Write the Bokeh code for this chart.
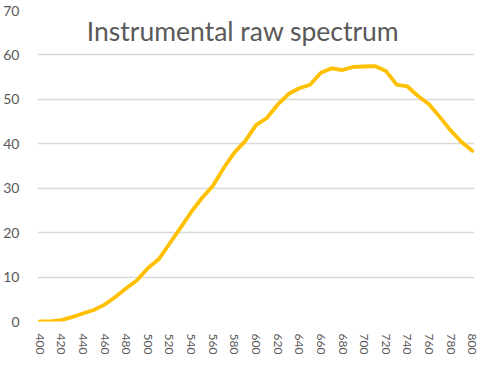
from bokeh.plotting import figure
from bokeh.models import Range1d, FixedTicker, Label
from bokeh.embed import file_html
from bokeh.resources import INLINE

# Data
wavelength = [400, 410, 420, 430, 440, 450, 460, 470, 480, 490,
              500, 510, 520, 530, 540, 550, 560, 570, 580, 590,
              600, 610, 620, 630, 640, 650, 660, 670, 680, 690,
              700, 710, 720, 730, 740, 750, 760, 770, 780, 790, 800]
intensity = [0.0, 0.0, 0.3, 1.0, 1.8, 2.6, 3.8, 5.5, 7.5, 9.3,
             12.0, 14.0, 17.5, 21.0, 24.6, 27.8, 30.5, 34.5, 38.0, 40.6,
             44.2, 45.8, 48.8, 51.2, 52.5, 53.3, 56.0, 57.0, 56.6, 57.3,
             57.4, 57.5, 56.4, 53.3, 52.9, 50.7, 48.9, 46.0, 43.0, 40.4, 38.4]
x_ticks = list(range(400, 801, 20))
y_ticks = [0, 10, 20, 30, 40, 50, 60, 70]
title_text = "Instrumental raw spectrum"

GRAY = "#595959"

p = figure(width=484, height=357, output_backend="svg", toolbar_location=None,
           x_range=Range1d(398, 802), y_range=Range1d(0, 70),
           min_border_left=30, min_border_right=10, min_border_top=10, min_border_bottom=8)

p.line(wavelength, intensity, line_color="#FFC000", line_width=3.8, line_join="round", line_cap="round")

p.xaxis.ticker = FixedTicker(ticks=x_ticks)
p.yaxis.ticker = FixedTicker(ticks=y_ticks)
p.xaxis.major_label_orientation = "vertical"
for ax in (p.xaxis, p.yaxis):
    ax.axis_line_color = None
    ax.major_tick_line_color = None
    ax.minor_tick_line_color = None
    ax.major_label_text_color = GRAY
    ax.major_label_text_font = "Lato"
p.xaxis.major_label_text_font_size = "12px"
p.yaxis.major_label_text_font_size = "14px"
p.xaxis.major_label_standoff = 6
p.yaxis.major_label_standoff = 12

p.xgrid.grid_line_color = None
p.ygrid.grid_line_color = "#d9d9d9"
p.ygrid.grid_line_width = 1.3
p.outline_line_color = None
p.background_fill_color = "white"
p.border_fill_color = "white"

p.add_layout(Label(x=588, y=65.3, text=title_text, text_align="center",
                   text_baseline="alphabetic", text_font="Lato",
                   text_font_size="26.5px", text_color=GRAY))

open("out.html", "w").write(file_html(p, INLINE))
